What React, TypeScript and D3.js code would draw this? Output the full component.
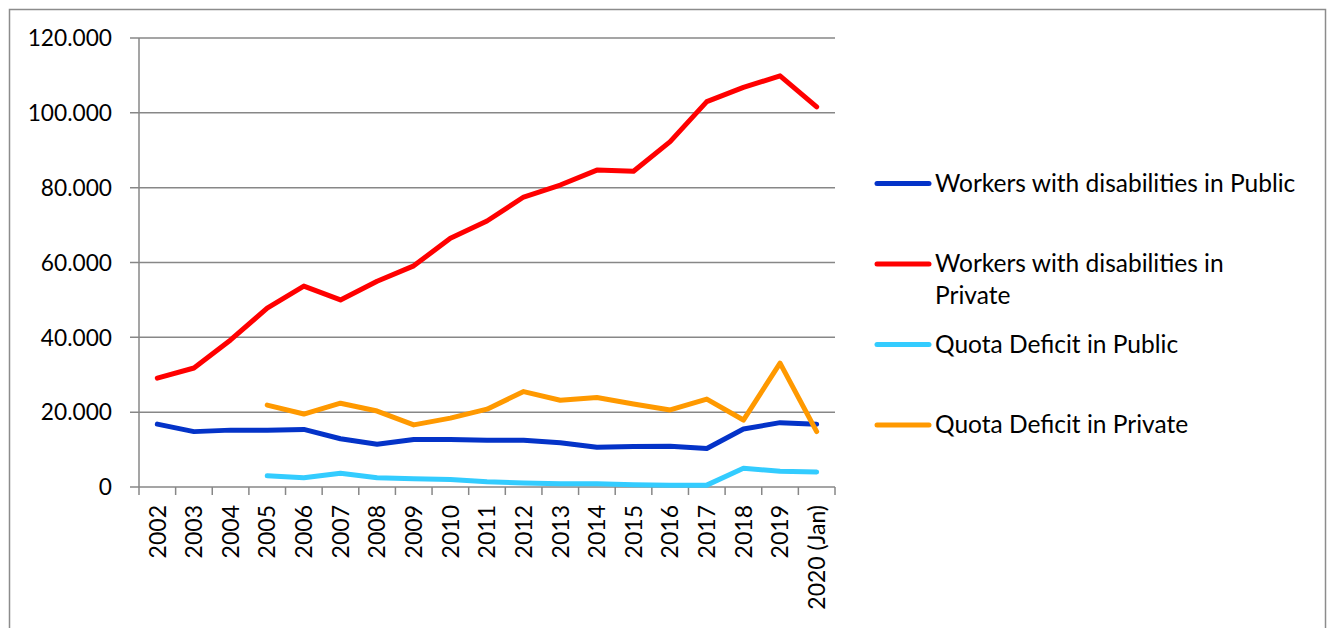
import React, { useEffect, useRef } from 'react'
import * as d3 from 'd3'

const years = ['2002', '2003', '2004', '2005', '2006', '2007', '2008', '2009', '2010', '2011', '2012', '2013', '2014', '2015', '2016', '2017', '2018', '2019', '2020 (Jan)']

const workersPublic = [16.8, 14.8, 15.2, 15.2, 15.4, 12.9, 11.4, 12.7, 12.7, 12.5, 12.5, 11.8, 10.6, 10.8, 10.9, 10.3, 15.5, 17.2, 16.8]
const workersPrivate = [29.1, 31.8, 39.3, 47.8, 53.7, 50.0, 55.0, 59.1, 66.5, 71.1, 77.5, 80.7, 84.7, 84.4, 92.3, 103.0, 106.8, 109.9, 101.6]
const quotaPublic = [null, null, null, 3.0, 2.5, 3.7, 2.5, 2.2, 2.0, 1.4, 1.1, 0.9, 0.9, 0.6, 0.5, 0.5, 5.0, 4.2, 4.0]
const quotaPrivate = [null, null, null, 21.9, 19.5, 22.4, 20.3, 16.6, 18.4, 20.8, 25.5, 23.2, 23.9, 22.2, 20.6, 23.5, 17.9, 33.1, 14.8]

const yTicks = [0, 20, 40, 60, 80, 100, 120]
const yTickLabels = ['0', '20.000', '40.000', '60.000', '80.000', '100.000', '120.000']

const seriesNames = ['Workers with disabilities in Public', 'Workers with disabilities in Private', 'Quota Deficit in Public', 'Quota Deficit in Private']
const seriesColors = ['#0433c8', '#ff0000', '#33ccff', '#ff9900']

export default function App() {
  const ref = useRef<SVGSVGElement | null>(null)

  useEffect(() => {
    const W = 1332
    const H = 628
    const font = 'Lato, "Open Sans", sans-serif'
    const svg = d3.select(ref.current)
    svg.selectAll('*').remove()
    svg.attr('width', W).attr('height', H)

    // 外框
    svg.append('rect')
      .attr('x', 9.5).attr('y', 9.5)
      .attr('width', 1316).attr('height', 650)
      .attr('fill', '#fff')
      .attr('stroke', '#8c8c8c')
      .attr('stroke-width', 1.5)

    const left = 139
    const right = 835
    const top = 38
    const bottom = 487

    const x = d3.scaleBand().domain(years).range([left, right])
    const y = d3.scaleLinear().domain([0, 120]).range([bottom, top])

    // 网格线
    svg.selectAll('.grid')
      .data(yTicks)
      .enter()
      .append('line')
      .attr('x1', left - 9).attr('x2', right)
      .attr('y1', d => y(d)).attr('y2', d => y(d))
      .attr('stroke', '#878787')
      .attr('stroke-width', 1.5)

    // y轴
    svg.append('line')
      .attr('x1', left).attr('x2', left)
      .attr('y1', top).attr('y2', bottom)
      .attr('stroke', '#878787').attr('stroke-width', 1.5)

    svg.selectAll('.ylabel')
      .data(yTicks)
      .enter()
      .append('text')
      .attr('x', 112)
      .attr('y', d => y(d))
      .attr('dy', '0.36em')
      .attr('text-anchor', 'end')
      .attr('font-family', font)
      .attr('font-size', 22.7)
      .attr('fill', '#000')
      .text((d, i) => yTickLabels[i])

    // x轴刻度
    const bounds = years.map(d => x(d) as number).concat([right])
    svg.selectAll('.xtick')
      .data(bounds)
      .enter()
      .append('line')
      .attr('x1', d => d).attr('x2', d => d)
      .attr('y1', bottom).attr('y2', bottom + 8)
      .attr('stroke', '#878787').attr('stroke-width', 1.5)

    svg.selectAll('.xlabel')
      .data(years)
      .enter()
      .append('text')
      .attr('transform', d => 'translate(' + ((x(d) as number) + x.bandwidth() / 2) + ',' + 505 + ') rotate(-90)')
      .attr('dy', '0.36em')
      .attr('text-anchor', 'end')
      .attr('font-family', font)
      .attr('font-size', 23)
      .attr('fill', '#000')
      .text(d => d)

    // 折线
    const allSeries = [workersPublic, workersPrivate, quotaPublic, quotaPrivate]
    const line = d3.line<any>()
      .defined(d => d.v != null)
      .x(d => (x(d.k) as number) + x.bandwidth() / 2)
      .y(d => y(d.v))

    const drawOrder = [2, 0, 3, 1]
    drawOrder.forEach(si => {
      svg.append('path')
        .datum(years.map((k, i) => ({ k, v: allSeries[si][i] })))
        .attr('d', line)
        .attr('fill', 'none')
        .attr('stroke', seriesColors[si])
        .attr('stroke-width', 5)
        .attr('stroke-linejoin', 'round')
        .attr('stroke-linecap', 'round')
    })

    // 图例
    const legendY = [183.5, 264, 344.5, 425]
    const legend = svg.selectAll('.legend')
      .data(seriesNames)
      .enter()
      .append('g')
      .attr('transform', (d, i) => 'translate(0,' + legendY[i] + ')')

    legend.append('line')
      .attr('x1', 877).attr('x2', 929)
      .attr('y1', 0).attr('y2', 0)
      .attr('stroke', (d, i) => seriesColors[i])
      .attr('stroke-width', 5)
      .attr('stroke-linecap', 'round')

    legend.each(function (d, i) {
      const g = d3.select(this)
      const lines = i === 1 ? ['Workers with disabilities in', 'Private'] : [d]
      lines.forEach((t, j) => {
        g.append('text')
          .attr('x', 935)
          .attr('y', 8 + j * 32)
          .attr('font-family', font)
          .attr('font-size', 24.5)
          .attr('fill', '#000')
          .text(t)
      })
    })
  }, [])

  return (
    <div style={{ position: 'absolute', left: 0, top: 0 }}>
      <svg ref={ref} style={{ display: 'block' }}></svg>
    </div>
  )
}
